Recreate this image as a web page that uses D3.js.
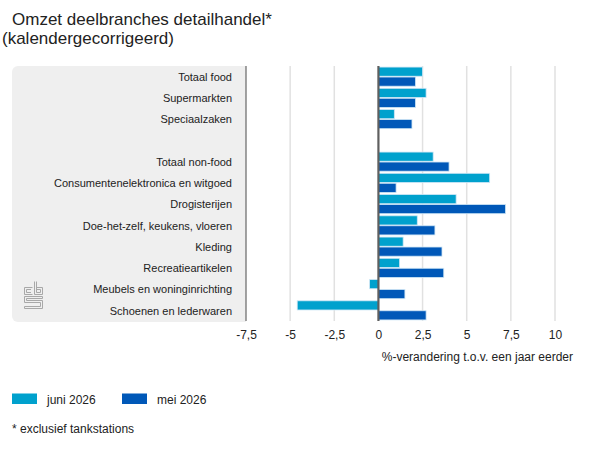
<!DOCTYPE html>
<html>
<head>
<meta charset="utf-8">
<script src="https://cdn.jsdelivr.net/npm/d3@7"></script>
<style>
  html, body { margin: 0; padding: 0; background: #fff; }
  svg { display: block; font-family: "Liberation Sans", Arial, sans-serif; }
</style>
</head>
<body>
<svg id="chart" width="600" height="450"></svg>
<script>
const categories = [
  "Totaal food", "Supermarkten", "Speciaalzaken", "",
  "Totaal non-food", "Consumentenelektronica en witgoed", "Drogisterijen",
  "Doe-het-zelf, keukens, vloeren", "Kleding", "Recreatieartikelen",
  "Meubels en woninginrichting", "Schoenen en lederwaren"
];
const juni2026 = [2.5, 2.7, 0.9, null, 3.1, 6.3, 4.4, 2.2, 1.4, 1.2, -0.5, -4.6];
const mei2026  = [2.1, 2.1, 1.9, null, 4.0, 1.0, 7.2, 3.2, 3.6, 3.7, 1.5, 2.7];
const seriesNames = ["juni 2026", "mei 2026"];
const seriesColors = ["#00a1cd", "#0058b8"];
const xTicks = [-7.5, -5, -2.5, 0, 2.5, 5, 7.5, 10];
const title1 = "Omzet deelbranches detailhandel*";
const title2 = "(kalendergecorrigeerd)";
const axisTitle = "%-verandering t.o.v. een jaar eerder";
const footnote = "* exclusief tankstations";

const svg = d3.select("#chart");
const plotTop = 66, plotBottom = 321, plotLeft = 246, plotRight = 555;

const x = d3.scaleLinear().domain([-7.5, 10]).range([plotLeft, plotRight]);
const y = d3.scaleBand().domain(d3.range(categories.length)).range([plotTop, plotBottom]).paddingInner(0.1).paddingOuter(0.05);
const ySub = d3.scaleBand().domain([0, 1]).range([0, y.bandwidth()]).paddingInner(0.08);

// Title
svg.append("text").attr("x", 12).attr("y", 25).attr("font-size", 17).attr("fill", "#222").text(title1);
svg.append("text").attr("x", 2).attr("y", 44).attr("font-size", 17).attr("fill", "#222").text(title2);

// Grey label panel
svg.append("rect").attr("x", 12).attr("y", plotTop).attr("width", plotLeft - 12 + 8).attr("height", plotBottom - plotTop + 1)
  .attr("rx", 6).attr("fill", "#efefef");
svg.append("rect").attr("x", plotLeft).attr("y", plotTop - 2).attr("width", 20).attr("height", plotBottom - plotTop + 6).attr("fill", "#fff");

// Gridlines
svg.append("g").selectAll("line").data(xTicks.filter(t => t !== 0 && t !== -7.5)).join("line")
  .attr("x1", d => x(d)).attr("x2", d => x(d)).attr("y1", plotTop).attr("y2", plotBottom)
  .attr("stroke", "#e1e1e1").attr("stroke-width", 1.5);

// Left axis line
svg.append("line").attr("x1", x(-7.5)).attr("x2", x(-7.5)).attr("y1", plotTop).attr("y2", plotBottom)
  .attr("stroke", "#666").attr("stroke-width", 1.2);

// Category labels
svg.append("g").selectAll("text").data(categories).join("text")
  .attr("x", 232).attr("y", (d, i) => y(i) + y.bandwidth() / 2 + 0.5)
  .attr("dy", "0.35em").attr("text-anchor", "end").attr("font-size", 11).attr("fill", "#222")
  .text(d => d);

// Bars
const seriesData = [juni2026, mei2026];
seriesData.forEach((vals, s) => {
  svg.append("g").selectAll("rect").data(vals.map((v, i) => ({v, i})).filter(d => d.v !== null)).join("rect")
    .attr("x", d => x(Math.min(0, d.v)))
    .attr("width", d => Math.abs(x(d.v) - x(0)))
    .attr("y", d => y(d.i) + ySub(s))
    .attr("height", ySub.bandwidth())
    .attr("fill", seriesColors[s])
    .attr("stroke", "#cfe6f5").attr("stroke-width", 0.8);
});

// Zero line
svg.append("line").attr("x1", x(0)).attr("x2", x(0)).attr("y1", plotTop).attr("y2", plotBottom)
  .attr("stroke", "#5f5f5f").attr("stroke-width", 2.2);

// X axis tick labels
const xAxis = d3.axisBottom(x).tickValues(xTicks).tickSize(0).tickPadding(0)
  .tickFormat(d => String(d).replace(".", ","));
const gx = svg.append("g").attr("transform", `translate(0, ${plotBottom + 9})`).call(xAxis);
gx.select(".domain").remove();
gx.selectAll("text").attr("font-size", 12).attr("fill", "#222").attr("font-family", "'Liberation Sans', Arial, sans-serif");

// Axis title
svg.append("text").attr("x", 573).attr("y", 361).attr("text-anchor", "end").attr("font-size", 12).attr("fill", "#222").text(axisTitle);

// Legend
const legX = [12, 122];
seriesNames.forEach((n, s) => {
  svg.append("rect").attr("x", legX[s]).attr("y", 393.5).attr("width", 25).attr("height", 10.5).attr("fill", seriesColors[s]);
  svg.append("text").attr("x", legX[s] + 35).attr("y", 404).attr("font-size", 12).attr("fill", "#222").text(n);
});

// Footnote
svg.append("text").attr("x", 12).attr("y", 433).attr("font-size", 12).attr("fill", "#222").text(footnote);

// CBS logo (simplified)
const logo = svg.append("g").attr("fill", "none").attr("stroke", "#a8a8a8").attr("stroke-width", 1);
logo.append("path").attr("d", "M32.5,287.5 H24.5 V294.5 H32.5 M31,289.5 H26.5 V292.5 H31");
logo.append("path").attr("d", "M34.5,281.5 V294.5 H42.5 V287.5 H36.5 M36.5,281.5 V292.5 H40.5 V289.5 H36.5");
logo.append("path").attr("d", "M42.5,296.5 H24.5 V302.5 H40.5 V306.5 H24.5 V308.5 H42.5 V300.5 H26.5 V298.5 H42.5 Z");
</script>
</body>
</html>
